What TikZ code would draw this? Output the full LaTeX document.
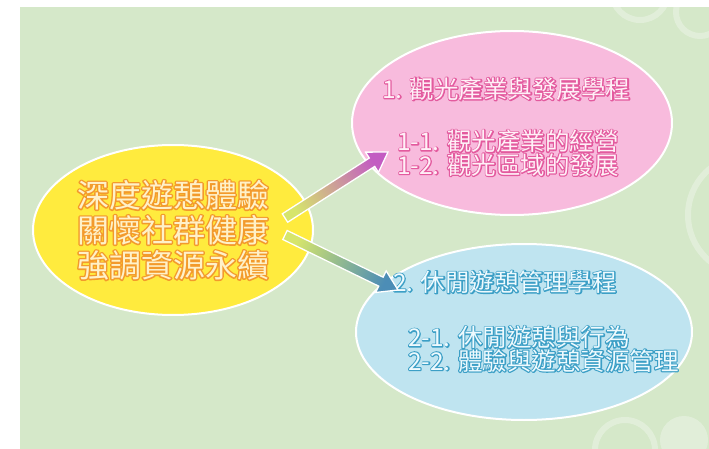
\documentclass[tikz,border=0pt]{standalone}
\usepackage{fontspec}
\usetikzlibrary{shapes.geometric,calc}
\newfontfamily\cjk{Noto Sans CJK TC}

\definecolor{bggreen}{HTML}{D5E8C9}
\definecolor{coreyellow}{HTML}{FFEB3E}
\definecolor{corefill}{HTML}{FFF1C8}
\definecolor{tourpink}{HTML}{F8BBDD}
\definecolor{tourfill}{HTML}{FFF0F7}
\definecolor{leisblue}{HTML}{BFE4F0}
\definecolor{leisfill}{HTML}{EEFAFE}
\definecolor{arrowstart}{HTML}{D6E56C}
\definecolor{arrowpink}{HTML}{E3A07A}
\definecolor{arrowplum}{HTML}{C35CC2}
\definecolor{arrowsage}{HTML}{98C48A}
\definecolor{arrowsteel}{HTML}{4C8DB6}

% outline colours go to the PDF stroke directly (r g b)
\def\coreline{0.953 0.604 0.169}
\def\tourline{0.890 0.353 0.620}
\def\leisline{0.235 0.624 0.776}
\newcommand{\outlined}[3]{\rlap{\special{pdf:literal direct #1 RG #2 w 1 j 1 Tr}#3\special{pdf:literal direct 0 Tr}}#3}

\tikzstyle{bubble}    = [ellipse, draw=white, line width=2pt, inner sep=0pt]
\tikzstyle{arrowbody} = [draw=white, line width=1.3pt]
\tikzstyle{ring}      = [draw=white, draw opacity=0.3, line width=6pt]
\tikzstyle{tourtext}  = [inner sep=0pt, anchor=west, align=left, text=tourfill,
                         font=\cjk\fontsize{24.5}{23.5}\selectfont]
\tikzstyle{leistext}  = [inner sep=0pt, anchor=west, align=left, text=leisfill,
                         font=\cjk\fontsize{24.5}{23.5}\selectfont]

\newcommand{\fatarrow}[5]{%
  \shade[arrowbody, left color=#3, middle color=#4, right color=#5]
    let \p1=($(#2)-(#1)$), \n1={atan2(\y1,\x1)}, \n2={veclen(\x1,\y1)-19} in
    [shading angle=\n1+90]
    (#1) ++(\n1+90:5pt) -- ++(\n1:\n2) -- ++(\n1+90:7pt) -- (#2)
    -- ($(#1)+(\n1:\n2)+(\n1-90:12pt)$) -- ++(\n1+90:7pt)
    -- ($(#1)+(\n1-90:5pt)$) -- cycle;}

\begin{document}
\begin{tikzpicture}[x=1pt, y=-1pt]
    \useasboundingbox (0,0) rectangle (709,449);
    \fill[white] (0,0) rectangle (709,449);
    \fill[bggreen] (20,7) rectangle (709,449);
    \begin{scope}
        \clip (20,7) rectangle (709,449);
        \draw[ring] (640,-8) circle (28);
        \draw[ring] (700,12) circle (24);
        \draw[ring] (748,215) circle (60);
        \draw[ring] (625,450) circle (30);
        \fill[white, opacity=0.3] (684,440) circle (24);
    \end{scope}

    \node (tour)    [bubble, fill=tourpink, minimum width=320pt, minimum height=184pt] at (512,123) {};
    \node (leisure) [bubble, fill=leisblue, minimum width=336pt, minimum height=176pt] at (524,332) {};
    \node (core)    [bubble, fill=coreyellow, minimum width=280pt, minimum height=170pt,
                     text=corefill, align=center, font=\cjk\fontsize{32}{35}\selectfont] at (173,230)
        {\outlined{\coreline}{2.8}{深度遊憩體驗}\\\outlined{\coreline}{2.8}{關懷社群健康}\\\outlined{\coreline}{2.8}{強調資源永續}};

    \node (tourhead) [tourtext] at ($(tour.center)+(-130,-34)$) {\outlined{\tourline}{2.2}{1. 觀光產業與發展學程}};
    \node (tourlist) [tourtext] at ($(tour.center)+(-115,30)$)
        {\outlined{\tourline}{2.2}{1-1. 觀光產業的經營}\\\outlined{\tourline}{2.2}{1-2. 觀光區域的發展}};
    \node (leishead) [leistext] at ($(leisure.center)+(-131,-50)$) {\outlined{\leisline}{2.2}{2. 休閒遊憩管理學程}};
    \node (leislist) [leistext] at ($(leisure.center)+(-116,17)$)
        {\outlined{\leisline}{2.2}{2-1. 休閒遊憩與行為}\\\outlined{\leisline}{2.2}{2-2. 體驗與遊憩資源管理}};

    \coordinate (upfrom)   at (285,218);
    \coordinate (uptip)    at (388,152);
    \coordinate (downfrom) at (285,235);
    \coordinate (downtip)  at (398,290);
    \fatarrow{upfrom}{uptip}{arrowstart}{arrowpink}{arrowplum}
    \fatarrow{downfrom}{downtip}{arrowstart}{arrowsage}{arrowsteel}
\end{tikzpicture}
\end{document}
